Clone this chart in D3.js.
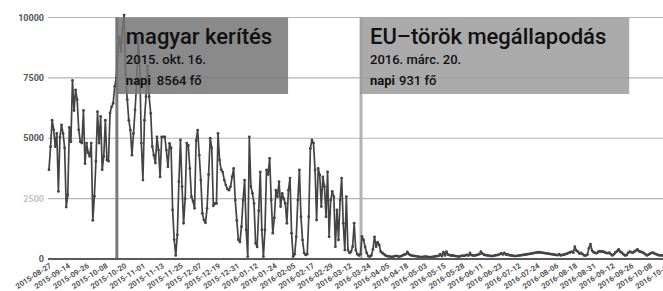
<!DOCTYPE html>
<html>
<head>
<meta charset="utf-8">
<script src="https://cdn.jsdelivr.net/npm/d3@7"></script>
<style>
  html, body { margin: 0; padding: 0; background: #fff; }
  svg { display: block; font-family: Roboto, "Noto Sans", sans-serif; }
</style>
</head>
<body>
<svg id="chart" width="663" height="291"></svg>
<script>
// napi érkezők, egy érték minden kategóriához (dátumsor, kihagyásokkal)
const values = [
  3700,4650,5750,5350,4650,5200,2800,5050,5550,5200,4600,2150,2650,5450,4850,7400,6150,7000,6600,5350,
  4850,4800,6150,3950,4800,4400,4250,4800,1600,2600,4050,6100,4800,5900,3700,4250,5750,4100,4050,6050,
  6300,6450,7150,7500,8564,9200,8600,9500,10100,7600,6600,5750,5340,4300,5200,6170,7340,9200,8000,4800,
  3270,5750,6720,8000,6720,6030,4650,4300,3970,5060,4510,3400,5060,5060,5060,4510,3820,4790,4600,2030,
  800,150,1000,3200,4930,3000,1480,2500,4800,4700,3750,2580,2400,2100,4900,5340,4300,3270,1890,1610,
  1500,2100,3500,5000,4600,2200,2300,2300,5200,4100,3700,3600,3270,3060,2900,2850,3000,3400,3750,2440,
  1600,800,700,1340,2440,3270,1200,100,5060,3000,2720,2300,660,500,2000,3610,1200,100,1200,3690,
  3500,4170,2440,1070,1700,2850,2580,3200,2170,2720,2500,2300,1480,2850,3350,1070,100,200,920,2440,
  3690,1750,790,250,170,200,1750,4580,4930,4800,3690,1610,3750,3480,2170,3400,3000,1750,3610,920,
  2440,2800,2580,510,2030,790,2440,3350,1480,370,2580,370,250,300,510,1480,370,200,150,200,
  931,790,500,250,120,100,150,400,920,510,700,580,300,250,200,150,120,
  110,100,90,100,120,130,110,100,120,150,180,200,
  290,200,160,140,130,120,110,100,90,80,90,100,
  100,90,80,80,90,100,110,120,130,200,120,280,
  150,300,180,160,140,150,130,120,110,100,120,140,
  130,150,170,140,250,160,150,140,160,180,200,300,
  220,180,160,150,140,130,120,130,150,160,170,200,
  240,190,250,180,200,160,150,140,130,120,130,140,
  150,160,170,180,190,200,210,220,230,250,260,270,
  280,270,260,250,240,230,220,210,200,190,180,170,
  160,200,150,170,180,200,220,250,280,300,260,
  510,350,300,220,250,200,150,140,180,450,620,350,280,250,240,300,320,300,310,280,
  250,240,260,200,150,200,280,320,400,300,260,200,150,160,250,300,280,260,300,350,
  400,320,300,280,250,200,150,180,220,250,260,220,200,170,150,160,140,
  150,170,140,160
];

// tengelyfeliratok, minden 12. kategóriánál
const tickLabels = [
  "2015-08-27","2015-09-14","2015-09-26","2015-10-08","2015-10-20","2015-11-01","2015-11-13",
  "2015-11-25","2015-12-07","2015-12-19","2015-12-31","2016-01-12","2016-01-24","2016-02-05",
  "2016-02-17","2016-02-29","2016-03-12","2016-03-24","2016-04-05","2016-04-18","2016-05-03",
  "2016-05-15","2016-05-28","2016-06-11","2016-06-23","2016-07-12","2016-07-24","2016-08-06",
  "2016-08-18","2016-08-31","2016-09-12","2016-09-26","2016-10-08","2016-10-20"
];
const tickEvery = 12;

const yTicks = [0, 2500, 5000, 7500, 10000];

const eventIndex = [44, 200];
const eventTitles = ["magyar kerítés", "EU–török megállapodás"];
const eventDates = ["2015. okt. 16.", "2016. márc. 20."];
const eventCounts = ["8564 fő", "931 fő"];

const svg = d3.select('#chart');
const W = 663, H = 291;

const x = d3.scaleLinear()
  .domain([0, (tickLabels.length - 1) * tickEvery])
  .range([49, 49 + (tickLabels.length - 1) * tickEvery * 1.565]);
const y = d3.scaleLinear().domain([0, 10000]).range([259, 17.5]);

// rács
svg.append('g')
  .selectAll('line')
  .data(yTicks.filter(d => d > 0))
  .join('line')
  .attr('x1', 48).attr('x2', W)
  .attr('y1', d => y(d)).attr('y2', d => y(d))
  .attr('stroke', '#b4b4b4')
  .attr('stroke-width', 1.2);

// y feliratok
svg.append('g')
  .selectAll('text')
  .data(yTicks)
  .join('text')
  .attr('x', 44)
  .attr('y', d => y(d))
  .attr('dy', '0.35em')
  .attr('text-anchor', 'end')
  .attr('font-size', 9)
  .attr('font-weight', 700)
  .attr('fill', d => d === 2500 ? '#c4c4c4' : '#555')
  .text(d => d);

// eseményvonalak
const evColors = ['#7a7a7a', '#b2b2b2'];
svg.append('g')
  .selectAll('line')
  .data(eventIndex)
  .join('line')
  .attr('x1', d => x(d) - 1).attr('x2', d => x(d) - 1)
  .attr('y1', y(10000)).attr('y2', y(0))
  .attr('stroke', (d, i) => evColors[i])
  .attr('stroke-width', 3);

// adatsor
const line = d3.line()
  .x((d, i) => x(i))
  .y(d => y(d));

const plot = svg.append('g');
plot.append('path')
  .datum(values)
  .attr('d', line)
  .attr('fill', 'none')
  .attr('stroke', '#444')
  .attr('stroke-width', 1.7)
  .attr('stroke-linejoin', 'round');

plot.selectAll('circle')
  .data(values)
  .join('circle')
  .attr('cx', (d, i) => x(i))
  .attr('cy', d => y(d))
  .attr('r', 1.4)
  .attr('fill', '#444');

// alapvonal
svg.append('line')
  .attr('x1', 48).attr('x2', W)
  .attr('y1', y(0)).attr('y2', y(0))
  .attr('stroke', '#5a5a5a')
  .attr('stroke-width', 1.8);

// x feliratok
svg.append('g')
  .selectAll('text')
  .data(tickLabels)
  .join('text')
  .attr('transform', (d, k) => `translate(${x(k * tickEvery) + 3},${y(0) + 8}) rotate(-33)`)
  .attr('text-anchor', 'end')
  .attr('font-size', 7.6)
  .attr('font-weight', 700)
  .attr('fill', '#555')
  .text(d => d);

// dobozok
const boxFill = ['#757575', '#9b9b9b'];
const boxPad = [26, 33];
eventIndex.forEach((idx, i) => {
  const bx = x(idx) - 2;
  const g = svg.append('g');
  const rect = g.append('rect')
    .attr('x', bx).attr('y', y(10000))
    .attr('height', 94 - y(10000))
    .attr('fill', boxFill[i])
    .attr('fill-opacity', 0.85);
  const t = g.append('text')
    .attr('x', bx + 10).attr('y', 44)
    .attr('font-size', 22)
    .attr('font-weight', 500)
    .attr('fill', '#111')
    .text(eventTitles[i]);
  g.append('text')
    .attr('x', bx + 10).attr('y', 64)
    .attr('font-size', 13)
    .attr('font-weight', 500)
    .attr('fill', '#111')
    .text(eventDates[i]);
  const n = g.append('text')
    .attr('x', bx + 10).attr('y', 85)
    .attr('font-size', 13)
    .attr('font-weight', 500)
    .attr('fill', '#111');
  n.append('tspan').attr('font-weight', 700).text('napi');
  n.append('tspan').attr('dx', i === 0 ? 6 : 4).text(eventCounts[i]);
  const tw = t.node().getComputedTextLength();
  rect.attr('width', tw + boxPad[i]);
});
</script>
</body>
</html>
